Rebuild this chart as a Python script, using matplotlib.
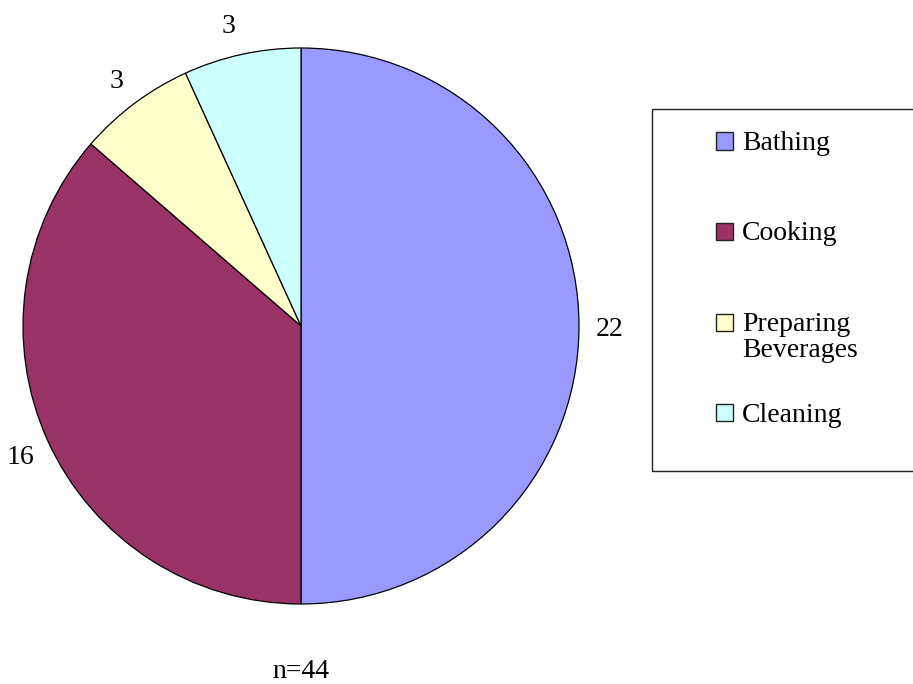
"""
Pie chart of water use by activity (n=44).
"""

import numpy as np
import matplotlib.pyplot as plt
from matplotlib.patches import Rectangle

categories = ["Bathing", "Cooking", "Preparing\nBeverages", "Cleaning"]
counts = [22, 16, 3, 3]
colors = ["#9999FF", "#993366", "#FFFFCC", "#CCFFFF"]
note = "n=44"

W, H = 913, 684


def fx(x):
    return x / W


def fy(y):
    return 1 - y / H


def main():
    plt.rcParams['font.family'] = ['Liberation Serif', 'DejaVu Serif']

    fig = plt.figure(figsize=(W / 100, H / 100), dpi=100)
    ax = fig.add_axes([fx(23), fy(604), 556 / W, 556 / H])

    wedges, texts = ax.pie(counts, labels=[str(c) for c in counts], colors=colors,
                           startangle=90, counterclock=False, labeldistance=1.11,
                           wedgeprops={'edgecolor': 'black', 'linewidth': 0.9},
                           textprops={'fontsize': 20, 'ha': 'center',
                                      'va': 'center_baseline'})
    # the last small label sits a bit closer to the top, as in the original
    t = texts[-1]
    th = np.deg2rad(103.5)
    t.set_position((1.12 * np.cos(th), 1.12 * np.sin(th)))
    ax.set_xlim(-1, 1)
    ax.set_ylim(-1, 1)
    ax.set_aspect('equal')

    # legend, laid out like the spreadsheet one
    fig.patches.append(Rectangle((fx(652), fy(471)), fx(915) - fx(652), fy(109) - fy(471),
                                 transform=fig.transFigure, facecolor='none',
                                 edgecolor='#222222', linewidth=1.0))
    sq = 17
    for i, (lab, col) in enumerate(zip(categories, colors)):
        cy = 141 + i * 90.5
        fig.patches.append(Rectangle((fx(716), fy(cy + sq / 2)), sq / W, sq / H,
                                     transform=fig.transFigure, facecolor=col,
                                     edgecolor='#222222', linewidth=1.0))
        for j, line in enumerate(lab.split("\n")):
            fig.text(fx(742), fy(cy + 9 + j * 26), line, ha='left', va='baseline',
                     fontsize=20)

    fig.text(fx(301), fy(678), note, ha='center', va='baseline', fontsize=20)

    fig.savefig("out.png", dpi=100)


if __name__ == "__main__":
    main()
